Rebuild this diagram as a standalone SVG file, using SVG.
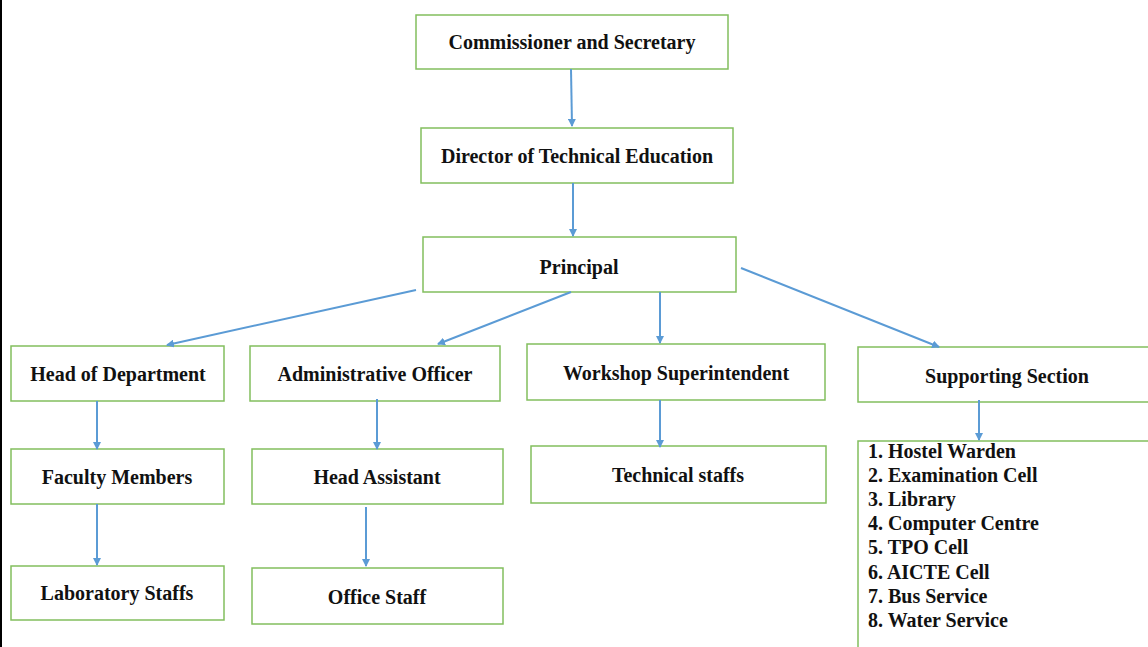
<svg xmlns="http://www.w3.org/2000/svg" width="1148" height="647" viewBox="0 0 1148 647">
<style>
.box{fill:#fff;stroke:#82BE5E;stroke-width:1.5}
.t{font-family:"Liberation Serif","Times New Roman",serif;font-weight:bold;font-size:20px;fill:#111;text-anchor:middle}
.l{font-family:"Liberation Serif","Times New Roman",serif;font-weight:bold;font-size:20px;fill:#111}
.c{stroke:#5B9BD5;stroke-width:2;fill:none;marker-end:url(#ah)}
</style>
<defs>
<marker id="ah" markerWidth="8" markerHeight="8" refX="7" refY="4" orient="auto" markerUnits="userSpaceOnUse">
<path d="M0,0 L8,4 L0,8 Z" fill="#5B9BD5"/>
</marker>
</defs>
<rect x="0" y="0" width="1148" height="647" fill="#fff"/>
<rect x="0" y="0" width="2" height="647" fill="#000"/>
<g id="commissioner"><rect class="box" x="416" y="15" width="312" height="54"/><text class="t" x="572" y="49">Commissioner and Secretary</text></g>
<g id="director"><rect class="box" x="421" y="128" width="312" height="55"/><text class="t" x="577" y="163">Director of Technical Education</text></g>
<g id="principal"><rect class="box" x="423" y="237" width="313" height="55"/><text class="t" x="579" y="274">Principal</text></g>
<g id="hod"><rect class="box" x="11" y="346" width="213" height="55"/><text class="t" x="118" y="381">Head of Department</text></g>
<g id="admin"><rect class="box" x="250" y="346" width="250" height="55"/><text class="t" x="375" y="381">Administrative Officer</text></g>
<g id="workshop"><rect class="box" x="527" y="344" width="298" height="56"/><text class="t" x="676" y="380">Workshop Superintendent</text></g>
<g id="supporting"><rect class="box" x="858" y="347" width="300" height="55"/><text class="t" x="1007" y="383">Supporting Section</text></g>
<g id="faculty"><rect class="box" x="11" y="449" width="213" height="55"/><text class="t" x="117" y="484">Faculty Members</text></g>
<g id="headassistant"><rect class="box" x="252" y="449" width="251" height="55"/><text class="t" x="377" y="484">Head Assistant</text></g>
<g id="technical"><rect class="box" x="531" y="446" width="295" height="57"/><text class="t" x="678" y="482">Technical staffs</text></g>
<g id="lab"><rect class="box" x="11" y="566" width="213" height="54"/><text class="t" x="117" y="600">Laboratory Staffs</text></g>
<g id="office"><rect class="box" x="252" y="568" width="251" height="56"/><text class="t" x="377" y="604">Office Staff</text></g>
<g id="list"><rect class="box" x="858" y="441" width="300" height="220"/>
<text class="l" x="868" y="458">1. Hostel Warden</text>
<text class="l" x="868" y="482">2. Examination Cell</text>
<text class="l" x="868" y="506">3. Library</text>
<text class="l" x="868" y="530">4. Computer Centre</text>
<text class="l" x="868" y="554">5. TPO Cell</text>
<text class="l" x="868" y="579">6. AICTE Cell</text>
<text class="l" x="868" y="603">7. Bus Service</text>
<text class="l" x="868" y="627">8. Water Service</text>
</g>
<g id="connectors">
<line class="c" x1="571" y1="69" x2="572" y2="126"/>
<line class="c" x1="573" y1="183" x2="573" y2="236"/>
<line class="c" x1="416" y1="290" x2="167" y2="345"/>
<line class="c" x1="571" y1="292" x2="438" y2="344"/>
<line class="c" x1="660" y1="292" x2="660" y2="343"/>
<line class="c" x1="741" y1="268" x2="939" y2="347"/>
<line class="c" x1="97" y1="401" x2="97" y2="449"/>
<line class="c" x1="377" y1="399" x2="377" y2="449"/>
<line class="c" x1="660" y1="400" x2="660" y2="447"/>
<line class="c" x1="979" y1="400" x2="979" y2="440"/>
<line class="c" x1="97" y1="504" x2="97" y2="565"/>
<line class="c" x1="366" y1="507" x2="366" y2="566"/>
</g>
</svg>
